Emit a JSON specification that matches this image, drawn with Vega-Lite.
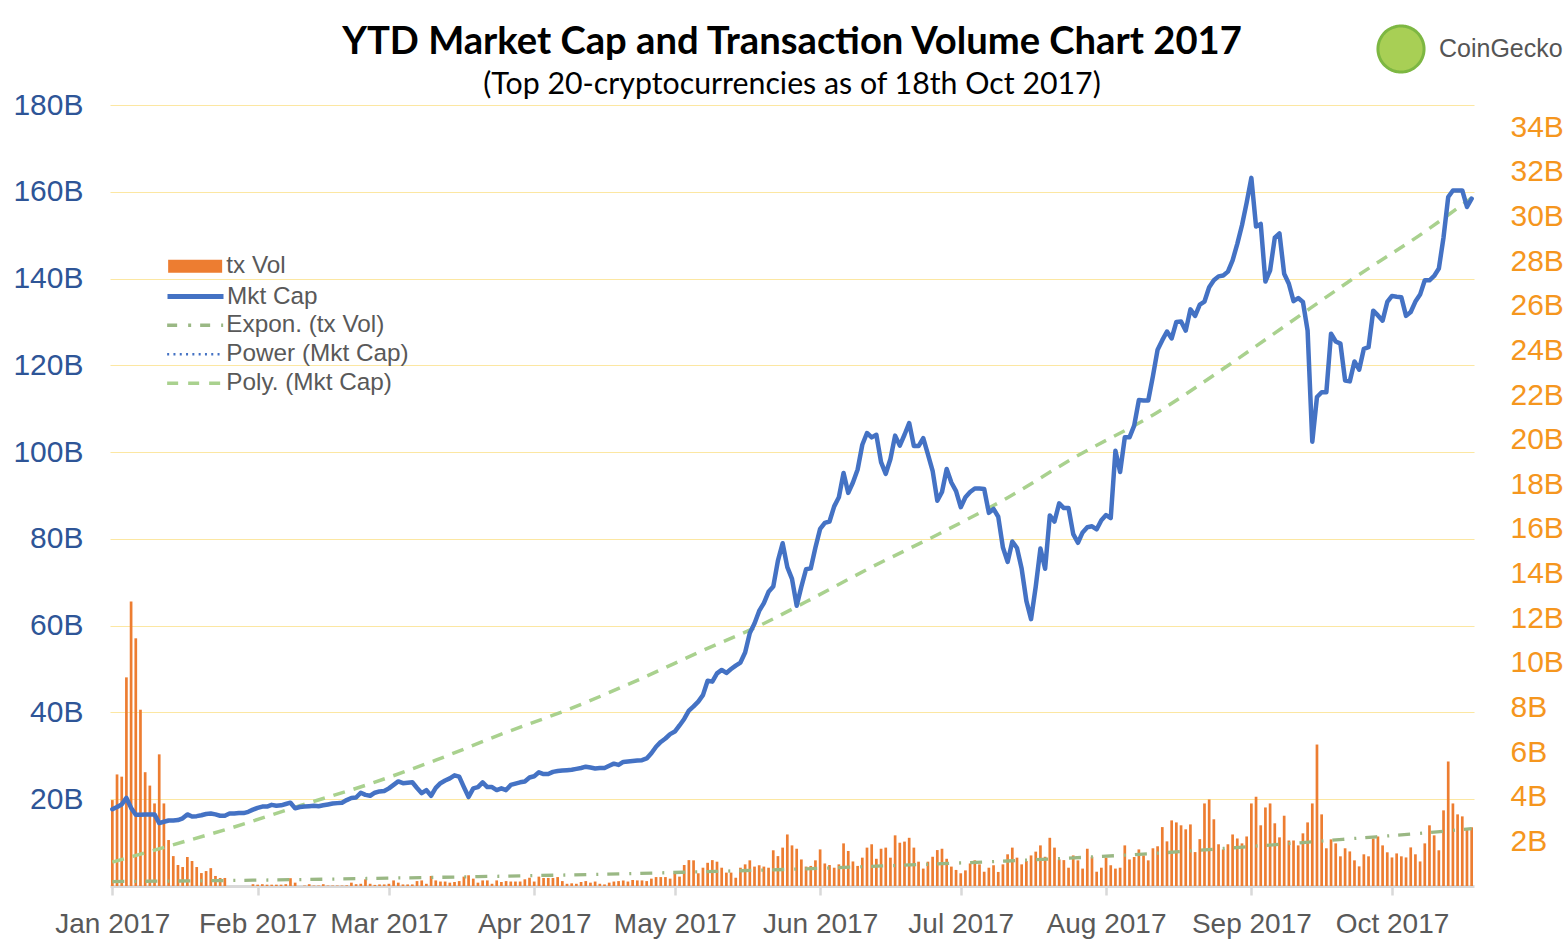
{
"$schema":"https://vega.github.io/schema/vega-lite/v6.json",
"width":1364,"height":781,
"autosize":{"type":"none"},
"padding":{"left":110,"top":105,"right":93,"bottom":57},
"background":"#ffffff",
"config":{"view":{"stroke":null},"legend":{"orient":"none","title":null,"padding":0,"labelFont":"Liberation Sans","labelFontSize":24.3,"labelColor":"#595959","labelOffset":19,"labelLimit":0,"symbolSize":400}},
"title":{"text":"YTD Market Cap and Transaction Volume Chart 2017","subtitle":"(Top 20-cryptocurrencies as of 18th Oct 2017)","anchor":"middle","frame":"group","font":"Lato","fontSize":38.2,"fontWeight":"bold","color":"#000000","subtitleFont":"Lato","subtitleFontSize":30.3,"subtitleFontWeight":"normal","subtitleColor":"#000000","subtitlePadding":7.7,"offset":-77},
"data":{"format":{"parse":{"date":"date:'%Y-%m-%d'"}},"values":[
{"date":"2017-01-01","mcap":17.7,"tx":3.85},{"date":"2017-01-02","mcap":18.2,"tx":5.0},{"date":"2017-01-03","mcap":18.8,"tx":4.9},{"date":"2017-01-04","mcap":20.3,"tx":9.35},{"date":"2017-01-05","mcap":18.0,"tx":12.75},{"date":"2017-01-06","mcap":16.4,"tx":11.1},{"date":"2017-01-07","mcap":16.4,"tx":7.9},{"date":"2017-01-08","mcap":16.5,"tx":5.1},{"date":"2017-01-09","mcap":16.5,"tx":4.5},{"date":"2017-01-10","mcap":16.5,"tx":3.7},{"date":"2017-01-11","mcap":14.5,"tx":5.9},{"date":"2017-01-12","mcap":14.8,"tx":3.7},{"date":"2017-01-13","mcap":15.1,"tx":2.06},{"date":"2017-01-14","mcap":15.1,"tx":1.34},{"date":"2017-01-15","mcap":15.2,"tx":0.94},{"date":"2017-01-16","mcap":15.6,"tx":0.85},{"date":"2017-01-17","mcap":16.5,"tx":1.3},{"date":"2017-01-18","mcap":16.0,"tx":1.12},{"date":"2017-01-19","mcap":16.1,"tx":0.85},{"date":"2017-01-20","mcap":16.3,"tx":0.58},{"date":"2017-01-21","mcap":16.6,"tx":0.67},{"date":"2017-01-22","mcap":16.7,"tx":0.8},{"date":"2017-01-23","mcap":16.5,"tx":0.45},{"date":"2017-01-24","mcap":16.2,"tx":0.36},{"date":"2017-01-25","mcap":16.2,"tx":0.36},{"date":"2017-01-26","mcap":16.7,"tx":0},{"date":"2017-01-27","mcap":16.7,"tx":0},{"date":"2017-01-28","mcap":16.8,"tx":0},{"date":"2017-01-29","mcap":16.8,"tx":0},{"date":"2017-01-30","mcap":17.1,"tx":0},{"date":"2017-01-31","mcap":17.6,"tx":0.08},
{"date":"2017-02-01","mcap":18.0,"tx":0.06},{"date":"2017-02-02","mcap":18.3,"tx":0.08},{"date":"2017-02-03","mcap":18.3,"tx":0.06},{"date":"2017-02-04","mcap":18.7,"tx":0.06},{"date":"2017-02-05","mcap":18.5,"tx":0.06},{"date":"2017-02-06","mcap":18.6,"tx":0.06},{"date":"2017-02-07","mcap":18.9,"tx":0.08},{"date":"2017-02-08","mcap":19.2,"tx":0.35},{"date":"2017-02-09","mcap":17.9,"tx":0.15},{"date":"2017-02-10","mcap":18.2,"tx":0},{"date":"2017-02-11","mcap":18.3,"tx":0.02},{"date":"2017-02-12","mcap":18.4,"tx":0.08},{"date":"2017-02-13","mcap":18.5,"tx":0.02},{"date":"2017-02-14","mcap":18.4,"tx":0.02},{"date":"2017-02-15","mcap":18.6,"tx":0.08},{"date":"2017-02-16","mcap":18.8,"tx":0.02},{"date":"2017-02-17","mcap":19.0,"tx":0.02},{"date":"2017-02-18","mcap":19.1,"tx":0.02},{"date":"2017-02-19","mcap":19.2,"tx":0.02},{"date":"2017-02-20","mcap":19.8,"tx":0.03},{"date":"2017-02-21","mcap":20.3,"tx":0.15},{"date":"2017-02-22","mcap":20.4,"tx":0.08},{"date":"2017-02-23","mcap":21.5,"tx":0.1},{"date":"2017-02-24","mcap":21.0,"tx":0.3},{"date":"2017-02-25","mcap":20.8,"tx":0.1},{"date":"2017-02-26","mcap":21.5,"tx":0.05},{"date":"2017-02-27","mcap":21.8,"tx":0.07},{"date":"2017-02-28","mcap":21.9,"tx":0.07},
{"date":"2017-03-01","mcap":22.5,"tx":0.1},{"date":"2017-03-02","mcap":23.3,"tx":0.25},{"date":"2017-03-03","mcap":24.1,"tx":0.15},{"date":"2017-03-04","mcap":23.7,"tx":0.07},{"date":"2017-03-05","mcap":23.8,"tx":0.07},{"date":"2017-03-06","mcap":23.9,"tx":0.07},{"date":"2017-03-07","mcap":22.6,"tx":0.22},{"date":"2017-03-08","mcap":21.4,"tx":0.25},{"date":"2017-03-09","mcap":22.1,"tx":0.1},{"date":"2017-03-10","mcap":20.8,"tx":0.45},{"date":"2017-03-11","mcap":22.6,"tx":0.25},{"date":"2017-03-12","mcap":23.7,"tx":0.2},{"date":"2017-03-13","mcap":24.3,"tx":0.2},{"date":"2017-03-14","mcap":24.8,"tx":0.15},{"date":"2017-03-15","mcap":25.5,"tx":0.18},{"date":"2017-03-16","mcap":25.2,"tx":0.22},{"date":"2017-03-17","mcap":22.8,"tx":0.42},{"date":"2017-03-18","mcap":20.5,"tx":0.48},{"date":"2017-03-19","mcap":22.5,"tx":0.33},{"date":"2017-03-20","mcap":22.8,"tx":0.15},{"date":"2017-03-21","mcap":23.9,"tx":0.25},{"date":"2017-03-22","mcap":22.8,"tx":0.25},{"date":"2017-03-23","mcap":22.8,"tx":0.1},{"date":"2017-03-24","mcap":22.1,"tx":0.25},{"date":"2017-03-25","mcap":22.5,"tx":0.18},{"date":"2017-03-26","mcap":22.1,"tx":0.22},{"date":"2017-03-27","mcap":23.3,"tx":0.2},{"date":"2017-03-28","mcap":23.6,"tx":0.2},{"date":"2017-03-29","mcap":23.9,"tx":0.2},{"date":"2017-03-30","mcap":24.1,"tx":0.3},{"date":"2017-03-31","mcap":25.0,"tx":0.37},
{"date":"2017-04-01","mcap":25.3,"tx":0.2},{"date":"2017-04-02","mcap":26.2,"tx":0.42},{"date":"2017-04-03","mcap":25.8,"tx":0.36},{"date":"2017-04-04","mcap":25.8,"tx":0.36},{"date":"2017-04-05","mcap":26.3,"tx":0.36},{"date":"2017-04-06","mcap":26.5,"tx":0.4},{"date":"2017-04-07","mcap":26.6,"tx":0.22},{"date":"2017-04-08","mcap":26.7,"tx":0.1},{"date":"2017-04-09","mcap":26.8,"tx":0.12},{"date":"2017-04-10","mcap":27.0,"tx":0.1},{"date":"2017-04-11","mcap":27.2,"tx":0.18},{"date":"2017-04-12","mcap":27.5,"tx":0.22},{"date":"2017-04-13","mcap":27.3,"tx":0.15},{"date":"2017-04-14","mcap":27.1,"tx":0.2},{"date":"2017-04-15","mcap":27.2,"tx":0.1},{"date":"2017-04-16","mcap":27.2,"tx":0.07},{"date":"2017-04-17","mcap":27.7,"tx":0.15},{"date":"2017-04-18","mcap":28.2,"tx":0.2},{"date":"2017-04-19","mcap":27.9,"tx":0.22},{"date":"2017-04-20","mcap":28.6,"tx":0.25},{"date":"2017-04-21","mcap":28.7,"tx":0.2},{"date":"2017-04-22","mcap":28.8,"tx":0.27},{"date":"2017-04-23","mcap":28.9,"tx":0.25},{"date":"2017-04-24","mcap":29.0,"tx":0.25},{"date":"2017-04-25","mcap":29.4,"tx":0.22},{"date":"2017-04-26","mcap":30.6,"tx":0.33},{"date":"2017-04-27","mcap":32.1,"tx":0.4},{"date":"2017-04-28","mcap":33.2,"tx":0.4},{"date":"2017-04-29","mcap":34.0,"tx":0.4},{"date":"2017-04-30","mcap":35.0,"tx":0.33},
{"date":"2017-05-01","mcap":35.6,"tx":0.57},{"date":"2017-05-02","mcap":37.0,"tx":0.42},{"date":"2017-05-03","mcap":38.5,"tx":0.94},{"date":"2017-05-04","mcap":40.4,"tx":1.16},{"date":"2017-05-05","mcap":41.4,"tx":1.15},{"date":"2017-05-06","mcap":42.5,"tx":0.57},{"date":"2017-05-07","mcap":44.0,"tx":0.82},{"date":"2017-05-08","mcap":47.3,"tx":1.04},{"date":"2017-05-09","mcap":47.1,"tx":1.16},{"date":"2017-05-10","mcap":49.0,"tx":1.09},{"date":"2017-05-11","mcap":49.8,"tx":0.82},{"date":"2017-05-12","mcap":49.1,"tx":0.6},{"date":"2017-05-13","mcap":50.0,"tx":0.6},{"date":"2017-05-14","mcap":50.8,"tx":0.37},{"date":"2017-05-15","mcap":51.5,"tx":0.82},{"date":"2017-05-16","mcap":53.8,"tx":0.97},{"date":"2017-05-17","mcap":58.3,"tx":1.15},{"date":"2017-05-18","mcap":60.5,"tx":0.87},{"date":"2017-05-19","mcap":63.4,"tx":0.93},{"date":"2017-05-20","mcap":65.2,"tx":0.87},{"date":"2017-05-21","mcap":67.8,"tx":0.82},{"date":"2017-05-22","mcap":69.0,"tx":1.6},{"date":"2017-05-23","mcap":75.0,"tx":1.34},{"date":"2017-05-24","mcap":79.0,"tx":1.72},{"date":"2017-05-25","mcap":73.5,"tx":2.31},{"date":"2017-05-26","mcap":70.8,"tx":1.82},{"date":"2017-05-27","mcap":64.6,"tx":1.67},{"date":"2017-05-28","mcap":69.0,"tx":1.19},{"date":"2017-05-29","mcap":73.0,"tx":0.87},{"date":"2017-05-30","mcap":73.2,"tx":0.9},{"date":"2017-05-31","mcap":78.0,"tx":1.15},
{"date":"2017-06-01","mcap":82.3,"tx":1.64},{"date":"2017-06-02","mcap":83.7,"tx":1.01},{"date":"2017-06-03","mcap":84.0,"tx":0.94},{"date":"2017-06-04","mcap":87.5,"tx":0.82},{"date":"2017-06-05","mcap":89.6,"tx":0.97},{"date":"2017-06-06","mcap":95.2,"tx":1.91},{"date":"2017-06-07","mcap":90.6,"tx":1.57},{"date":"2017-06-08","mcap":93.0,"tx":1.1},{"date":"2017-06-09","mcap":96.0,"tx":0.9},{"date":"2017-06-10","mcap":101.7,"tx":1.27},{"date":"2017-06-11","mcap":104.4,"tx":1.72},{"date":"2017-06-12","mcap":103.4,"tx":1.87},{"date":"2017-06-13","mcap":104.0,"tx":1.22},{"date":"2017-06-14","mcap":97.7,"tx":1.67},{"date":"2017-06-15","mcap":95.0,"tx":1.72},{"date":"2017-06-16","mcap":98.4,"tx":1.27},{"date":"2017-06-17","mcap":103.8,"tx":2.27},{"date":"2017-06-18","mcap":101.5,"tx":1.94},{"date":"2017-06-19","mcap":104.0,"tx":1.99},{"date":"2017-06-20","mcap":106.7,"tx":2.16},{"date":"2017-06-21","mcap":101.4,"tx":1.72},{"date":"2017-06-22","mcap":101.4,"tx":1.09},{"date":"2017-06-23","mcap":103.2,"tx":0.78},{"date":"2017-06-24","mcap":99.5,"tx":1.09},{"date":"2017-06-25","mcap":95.7,"tx":1.31},{"date":"2017-06-26","mcap":88.8,"tx":1.61},{"date":"2017-06-27","mcap":90.8,"tx":1.67},{"date":"2017-06-28","mcap":96.1,"tx":1.22},{"date":"2017-06-29","mcap":93.0,"tx":0.87},{"date":"2017-06-30","mcap":91.0,"tx":0.72},
{"date":"2017-07-01","mcap":87.3,"tx":0.57},{"date":"2017-07-02","mcap":89.6,"tx":0.7},{"date":"2017-07-03","mcap":90.8,"tx":1.01},{"date":"2017-07-04","mcap":91.6,"tx":1.15},{"date":"2017-07-05","mcap":91.6,"tx":0.97},{"date":"2017-07-06","mcap":91.5,"tx":0.64},{"date":"2017-07-07","mcap":86.0,"tx":0.82},{"date":"2017-07-08","mcap":86.9,"tx":0.93},{"date":"2017-07-09","mcap":85.1,"tx":0.63},{"date":"2017-07-10","mcap":78.0,"tx":0.97},{"date":"2017-07-11","mcap":74.7,"tx":1.42},{"date":"2017-07-12","mcap":79.4,"tx":1.72},{"date":"2017-07-13","mcap":77.9,"tx":1.27},{"date":"2017-07-14","mcap":73.1,"tx":0.97},{"date":"2017-07-15","mcap":65.7,"tx":1.12},{"date":"2017-07-16","mcap":61.5,"tx":1.37},{"date":"2017-07-17","mcap":69.0,"tx":1.54},{"date":"2017-07-18","mcap":77.8,"tx":1.82},{"date":"2017-07-19","mcap":73.1,"tx":1.31},{"date":"2017-07-20","mcap":85.4,"tx":2.16},{"date":"2017-07-21","mcap":84.0,"tx":1.72},{"date":"2017-07-22","mcap":88.2,"tx":1.19},{"date":"2017-07-23","mcap":87.1,"tx":1.16},{"date":"2017-07-24","mcap":87.1,"tx":0.82},{"date":"2017-07-25","mcap":81.1,"tx":1.37},{"date":"2017-07-26","mcap":79.1,"tx":1.15},{"date":"2017-07-27","mcap":81.5,"tx":0.78},{"date":"2017-07-28","mcap":82.7,"tx":1.67},{"date":"2017-07-29","mcap":82.9,"tx":1.31},{"date":"2017-07-30","mcap":82.2,"tx":0.64},{"date":"2017-07-31","mcap":84.3,"tx":0.82},
{"date":"2017-08-01","mcap":85.5,"tx":1.27},{"date":"2017-08-02","mcap":84.8,"tx":0.93},{"date":"2017-08-03","mcap":100.3,"tx":0.78},{"date":"2017-08-04","mcap":95.4,"tx":0.82},{"date":"2017-08-05","mcap":103.4,"tx":1.82},{"date":"2017-08-06","mcap":103.4,"tx":1.19},{"date":"2017-08-07","mcap":106.1,"tx":1.3},{"date":"2017-08-08","mcap":112.0,"tx":1.64},{"date":"2017-08-09","mcap":111.9,"tx":1.37},{"date":"2017-08-10","mcap":111.9,"tx":1.15},{"date":"2017-08-11","mcap":117.5,"tx":1.69},{"date":"2017-08-12","mcap":123.6,"tx":1.78},{"date":"2017-08-13","mcap":125.8,"tx":2.64},{"date":"2017-08-14","mcap":127.8,"tx":2.0},{"date":"2017-08-15","mcap":126.2,"tx":2.94},{"date":"2017-08-16","mcap":130.0,"tx":2.85},{"date":"2017-08-17","mcap":130.1,"tx":2.72},{"date":"2017-08-18","mcap":128.0,"tx":2.54},{"date":"2017-08-19","mcap":132.9,"tx":2.76},{"date":"2017-08-20","mcap":131.4,"tx":1.52},{"date":"2017-08-21","mcap":134.0,"tx":2.1},{"date":"2017-08-22","mcap":134.7,"tx":3.7},{"date":"2017-08-23","mcap":138.0,"tx":3.88},{"date":"2017-08-24","mcap":139.6,"tx":2.99},{"date":"2017-08-25","mcap":140.5,"tx":1.87},{"date":"2017-08-26","mcap":140.7,"tx":1.64},{"date":"2017-08-27","mcap":141.6,"tx":1.87},{"date":"2017-08-28","mcap":144.2,"tx":2.31},{"date":"2017-08-29","mcap":148.0,"tx":2.13},{"date":"2017-08-30","mcap":152.3,"tx":1.91},{"date":"2017-08-31","mcap":157.5,"tx":2.22},
{"date":"2017-09-01","mcap":163.2,"tx":3.7},{"date":"2017-09-02","mcap":152.0,"tx":4.0},{"date":"2017-09-03","mcap":152.6,"tx":2.72},{"date":"2017-09-04","mcap":139.3,"tx":3.52},{"date":"2017-09-05","mcap":141.9,"tx":3.7},{"date":"2017-09-06","mcap":149.4,"tx":2.81},{"date":"2017-09-07","mcap":150.4,"tx":2.18},{"date":"2017-09-08","mcap":141.1,"tx":3.15},{"date":"2017-09-09","mcap":138.8,"tx":2.04},{"date":"2017-09-10","mcap":134.8,"tx":2.04},{"date":"2017-09-11","mcap":135.5,"tx":1.82},{"date":"2017-09-12","mcap":134.6,"tx":2.36},{"date":"2017-09-13","mcap":128.0,"tx":2.85},{"date":"2017-09-14","mcap":102.4,"tx":3.7},{"date":"2017-09-15","mcap":112.7,"tx":6.34},{"date":"2017-09-16","mcap":113.8,"tx":3.21},{"date":"2017-09-17","mcap":113.8,"tx":1.69},{"date":"2017-09-18","mcap":127.3,"tx":2.09},{"date":"2017-09-19","mcap":125.5,"tx":1.91},{"date":"2017-09-20","mcap":125.0,"tx":1.33},{"date":"2017-09-21","mcap":116.5,"tx":1.69},{"date":"2017-09-22","mcap":116.3,"tx":1.55},{"date":"2017-09-23","mcap":120.9,"tx":1.15},{"date":"2017-09-24","mcap":119.0,"tx":0.88},{"date":"2017-09-25","mcap":123.8,"tx":1.42},{"date":"2017-09-26","mcap":124.2,"tx":1.33},{"date":"2017-09-27","mcap":132.6,"tx":2.13},{"date":"2017-09-28","mcap":131.5,"tx":2.22},{"date":"2017-09-29","mcap":130.3,"tx":1.82},{"date":"2017-09-30","mcap":134.6,"tx":1.51},
{"date":"2017-10-01","mcap":136.0,"tx":1.28},{"date":"2017-10-02","mcap":135.8,"tx":1.46},{"date":"2017-10-03","mcap":135.7,"tx":1.33},{"date":"2017-10-04","mcap":131.4,"tx":1.28},{"date":"2017-10-05","mcap":132.3,"tx":1.73},{"date":"2017-10-06","mcap":134.7,"tx":1.42},{"date":"2017-10-07","mcap":136.3,"tx":1.1},{"date":"2017-10-08","mcap":139.6,"tx":1.91},{"date":"2017-10-09","mcap":139.6,"tx":2.72},{"date":"2017-10-10","mcap":140.6,"tx":2.27},{"date":"2017-10-11","mcap":142.3,"tx":1.6},{"date":"2017-10-12","mcap":149.5,"tx":3.39},{"date":"2017-10-13","mcap":158.8,"tx":5.58},{"date":"2017-10-14","mcap":160.3,"tx":3.7},{"date":"2017-10-15","mcap":160.3,"tx":3.21},{"date":"2017-10-16","mcap":160.3,"tx":3.12},{"date":"2017-10-17","mcap":156.5,"tx":2.58},{"date":"2017-10-18","mcap":158.4,"tx":2.63}
]},
"layer":[
{"layer":[
{"mark":{"type":"bar","width":2.7},
"encoding":{
"x":{"field":"date","type":"temporal","scale":{"domain":[{"year":2016,"month":12,"date":31,"hours":12},{"year":2017,"month":10,"date":18,"hours":12}],"nice":false,"padding":0},
"axis":{"values":[{"year":2017,"month":1,"date":1},{"year":2017,"month":2,"date":1},{"year":2017,"month":3,"date":1},{"year":2017,"month":4,"date":1},{"year":2017,"month":5,"date":1},{"year":2017,"month":6,"date":1},{"year":2017,"month":7,"date":1},{"year":2017,"month":8,"date":1},{"year":2017,"month":9,"date":1},{"year":2017,"month":10,"date":1}],"format":"%b %Y","labelFont":"Liberation Sans","labelFontSize":28,"labelColor":"#595959","domainColor":"#D9D9D9","domainWidth":3,"tickColor":"#D9D9D9","tickWidth":2.5,"tickSize":9,"labelPadding":15,"grid":false,"title":null,"labelOverlap":false,"labelFlush":false}},
"y":{"field":"tx","type":"quantitative","scale":{"domain":[0,35],"nice":false},"axis":{"orient":"right","values":[2,4,6,8,10,12,14,16,18,20,22,24,26,28,30,32,34],"labelExpr":"datum.value + 'B'","labelFont":"Liberation Sans","labelFontSize":30,"labelColor":"#F5961E","ticks":false,"domain":false,"labelPadding":36,"grid":false,"title":null}},
"color":{"datum":"tx Vol","type":"nominal","scale":{"range":["#ED7D31"]},
"legend":{"legendX":73,"legendY":149,"symbolType":"M-2.7,-0.65H2.7V0.65H-2.7Z","symbolStrokeWidth":0}}
}},
{"data":{"format":{"parse":{"date":"date:'%Y-%m-%d'"}},"values":[
{"date":"2017-01-01","v":0.2},{"date":"2017-01-31","v":0.26},{"date":"2017-02-17","v":0.31},{"date":"2017-03-03","v":0.36},{"date":"2017-03-20","v":0.42},{"date":"2017-04-16","v":0.53},{"date":"2017-05-07","v":0.64},{"date":"2017-05-29","v":0.77},{"date":"2017-06-12","v":0.88},{"date":"2017-06-27","v":1.0},{"date":"2017-07-11","v":1.12},{"date":"2017-07-25","v":1.26},{"date":"2017-08-12","v":1.47},{"date":"2017-08-26","v":1.68},{"date":"2017-09-09","v":1.9},{"date":"2017-09-23","v":2.13},{"date":"2017-10-08","v":2.38},{"date":"2017-10-18","v":2.57}
]},
"mark":{"type":"line","strokeWidth":3.3,"strokeDash":[12,10,2,9],"interpolate":"monotone"},
"encoding":{
"x":{"field":"date","type":"temporal"},
"y":{"field":"v","type":"quantitative","scale":{"domain":[0,35],"nice":false},"axis":{"orient":"right","values":[2,4,6,8,10,12,14,16,18,20,22,24,26,28,30,32,34],"labelExpr":"datum.value + 'B'","labelFont":"Liberation Sans","labelFontSize":30,"labelColor":"#F5961E","ticks":false,"domain":false,"labelPadding":36,"grid":false,"title":null}},
"color":{"datum":"Expon. (tx Vol)","type":"nominal","scale":{"range":["#9AB884"]},
"legend":{"legendX":73,"legendY":208,"symbolType":"M-2.8,0H2.8","symbolStrokeWidth":3.5,"symbolDash":[10,11,3,9]}},
"opacity":{"datum":"CoinGecko","type":"nominal","scale":{"range":[1]},
"legend":{"legendX":1266,"legendY":-81,"symbolSize":2124,"symbolType":"circle","symbolFillColor":"#A8CF55","symbolStrokeColor":"#7DB742","symbolStrokeWidth":3,"symbolDash":[1,0],"labelFontSize":25,"labelColor":"#555555","labelOffset":13}}
}}
],"resolve":{"scale":{"color":"independent","opacity":"independent"}}},
{"layer":[
{"data":{"format":{"parse":{"date":"date:'%Y-%m-%d'"}},"values":[
{"date":"2017-01-01","v":5.5},{"date":"2017-01-13","v":9.2},{"date":"2017-01-27","v":13.6},{"date":"2017-02-10","v":18.5},{"date":"2017-02-24","v":23.2},{"date":"2017-03-11","v":29.0},{"date":"2017-03-25","v":35.0},{"date":"2017-04-09","v":41.0},{"date":"2017-04-23","v":47.4},{"date":"2017-05-07","v":54.3},{"date":"2017-05-20","v":60.5},{"date":"2017-05-29","v":65.5},{"date":"2017-06-12","v":73.5},{"date":"2017-06-27","v":81.5},{"date":"2017-07-11","v":89.5},{"date":"2017-07-25","v":98.6},{"date":"2017-08-12","v":109.2},{"date":"2017-08-26","v":119.2},{"date":"2017-09-09","v":129.7},{"date":"2017-09-23","v":140.2},{"date":"2017-10-08","v":150.8},{"date":"2017-10-18","v":158.6}
]},
"mark":{"type":"line","strokeWidth":3.5,"strokeDash":[12,9],"interpolate":"monotone"},
"encoding":{
"x":{"field":"date","type":"temporal"},
"y":{"field":"v","type":"quantitative","scale":{"domain":[0,180],"nice":false},"axis":{"orient":"left","values":[20,40,60,80,100,120,140,160,180],"labelExpr":"datum.value + 'B'","labelFont":"Liberation Sans","labelFontSize":30,"labelColor":"#2E5597","ticks":false,"domain":false,"labelPadding":27,"grid":true,"gridColor":"#FCE7A2","gridWidth":1.2,"title":null}},
"color":{"datum":"Poly. (Mkt Cap)","type":"nominal","scale":{"range":["#A9D18E"]},
"legend":{"legendX":73,"legendY":266,"symbolType":"M-2.8,0H2.8","symbolStrokeWidth":3.5,"symbolDash":[11,10]}}
}},
{"mark":{"type":"line","strokeWidth":4.5,"strokeJoin":"round","strokeCap":"round"},
"encoding":{
"x":{"field":"date","type":"temporal"},
"y":{"field":"mcap","type":"quantitative","scale":{"domain":[0,180],"nice":false},"axis":{"orient":"left","values":[20,40,60,80,100,120,140,160,180],"labelExpr":"datum.value + 'B'","labelFont":"Liberation Sans","labelFontSize":30,"labelColor":"#2E5597","ticks":false,"domain":false,"labelPadding":27,"grid":true,"gridColor":"#FCE7A2","gridWidth":1.2,"title":null}},
"color":{"datum":"Mkt Cap","type":"nominal","scale":{"range":["#4472C4"]},
"legend":{"legendX":73,"legendY":179,"symbolType":"M-2.8,0H2.8","symbolStrokeWidth":5}},
"opacity":{"datum":"Power (Mkt Cap)","type":"nominal","scale":{"range":[1]},
"legend":{"legendX":73,"legendY":237,"symbolType":"M-2.8,0H2.8","symbolStrokeWidth":2.5,"symbolDash":[2,4.3]}}
}}
],"resolve":{"scale":{"color":"independent","opacity":"independent"}}}
],
"resolve":{"scale":{"y":"independent","color":"independent","opacity":"independent"}}
}
